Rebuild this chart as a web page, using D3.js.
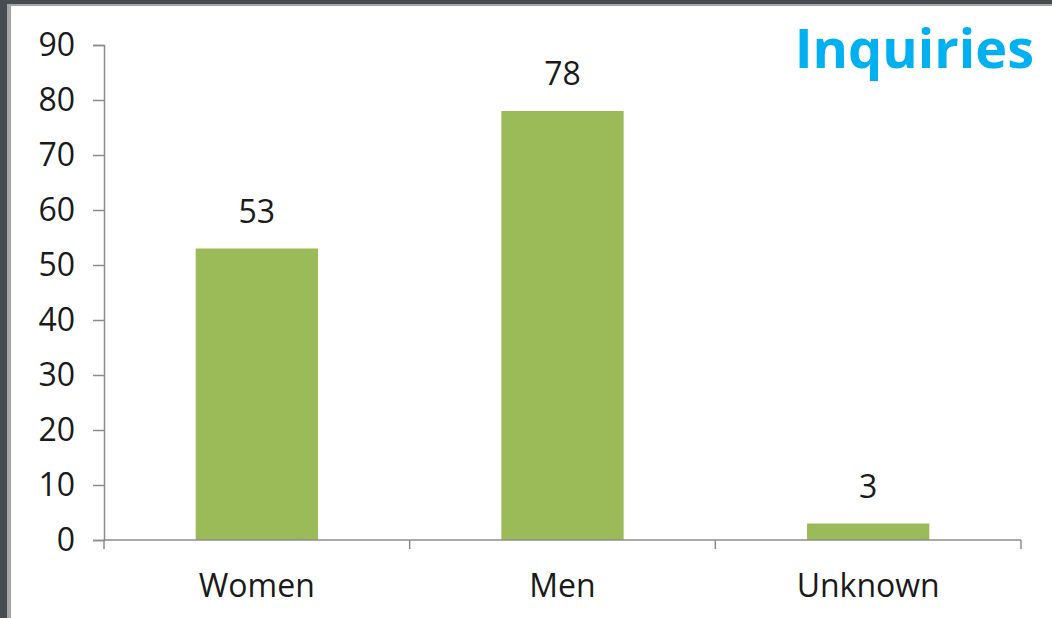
<!DOCTYPE html>
<html>
<head>
<meta charset="utf-8">
<script src="https://cdn.jsdelivr.net/npm/d3@7"></script>
<style>
  html, body { margin: 0; padding: 0; background: #464d52; }
  svg { display: block; }
  text { font-family: "Open Sans", "Noto Sans", sans-serif; fill: #1a1a1a; }
</style>
</head>
<body>
<svg id="chart" width="1052" height="618"></svg>
<script>
const categories = ["Women", "Men", "Unknown"];
const inquiries = [53, 78, 3];
const yTicks = [0, 10, 20, 30, 40, 50, 60, 70, 80, 90];
const title = "Inquiries";

const svg = d3.select("#chart");
const W = 1052, H = 618;
const labelSize = "32px";

// page frame: dark surround, thin grey rule, white panel
svg.append("rect").attr("x", 0).attr("y", 0).attr("width", W).attr("height", H).attr("fill", "#464d52");
svg.append("rect").attr("x", 7).attr("y", 4).attr("width", W - 7).attr("height", H - 4).attr("fill", "#a6a6a6");
svg.append("rect").attr("x", 11).attr("y", 6).attr("width", W - 11).attr("height", H - 6).attr("fill", "#ffffff");

const plot = { left: 104, right: 1021, top: 45, bottom: 540 };

const x = d3.scaleBand()
  .domain(categories)
  .range([plot.left, plot.right])
  .paddingInner(0.6)
  .paddingOuter(0.3);

const y = d3.scaleLinear()
  .domain([0, 90])
  .range([plot.bottom, plot.top]);

const axisColor = "#8c8c8c";

// y axis
const yAxis = svg.append("g")
  .attr("transform", `translate(${plot.left},0)`)
  .call(d3.axisLeft(y).tickValues(yTicks).tickSize(11).tickPadding(18));
yAxis.select(".domain").attr("stroke", axisColor).attr("stroke-width", 1.5);
yAxis.selectAll(".tick line").attr("stroke", axisColor).attr("stroke-width", 1.5);
yAxis.selectAll(".tick text")
  .style("font-size", labelSize)
  .attr("fill", "#1a1a1a");

// bars
svg.append("g").selectAll("rect")
  .data(categories)
  .join("rect")
  .attr("x", d => x(d))
  .attr("width", x.bandwidth())
  .attr("y", (d, i) => y(inquiries[i]))
  .attr("height", (d, i) => y(0) - y(inquiries[i]))
  .attr("fill", "#9bbb59");

// x axis with tick marks between categories
const boundaries = d3.range(categories.length + 1).map(i => plot.left + i * (plot.right - plot.left) / categories.length);
const xAxisG = svg.append("g");
xAxisG.append("line")
  .attr("x1", plot.left).attr("x2", plot.right)
  .attr("y1", y(0)).attr("y2", y(0))
  .attr("stroke", axisColor).attr("stroke-width", 1.5);
xAxisG.selectAll("line.tk")
  .data(boundaries)
  .join("line")
  .attr("class", "tk")
  .attr("x1", d => d).attr("x2", d => d)
  .attr("y1", y(0)).attr("y2", y(0) + 9)
  .attr("stroke", axisColor).attr("stroke-width", 1.5);

xAxisG.selectAll("text")
  .data(categories)
  .join("text")
  .attr("x", d => x(d) + x.bandwidth() / 2)
  .attr("y", 597)
  .attr("text-anchor", "middle")
  .style("font-size", labelSize)
  .text(d => d);

// value labels
svg.append("g").selectAll("text")
  .data(categories)
  .join("text")
  .attr("x", d => x(d) + x.bandwidth() / 2)
  .attr("y", (d, i) => y(inquiries[i]) - 26)
  .attr("text-anchor", "middle")
  .style("font-size", labelSize)
  .text((d, i) => inquiries[i]);

// title
svg.append("text")
  .attr("x", 1034)
  .attr("y", 68)
  .attr("text-anchor", "end")
  .style("font-size", "54px")
  .style("font-weight", "bold")
  .style("fill", "#00b0f0")
  .text(title);
</script>
</body>
</html>
